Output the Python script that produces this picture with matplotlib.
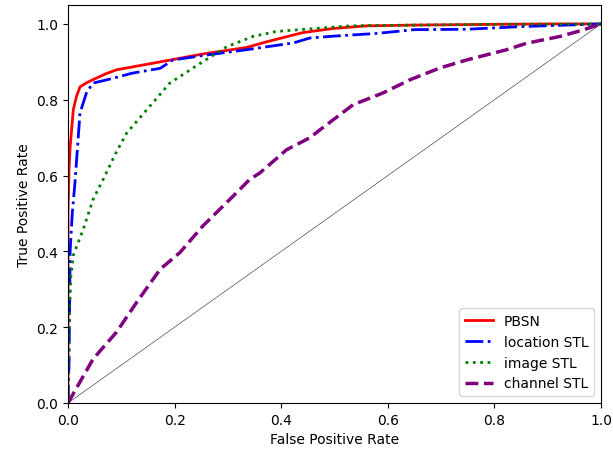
import matplotlib
matplotlib.use("Agg")
import matplotlib.pyplot as plt

# ROC curves
pbsn_fpr = [0.0, 0.0, 0.002, 0.004, 0.01, 0.016, 0.0225, 0.035, 0.05, 0.07, 0.091, 0.13, 0.185,
            0.25, 0.335, 0.373, 0.44, 0.497, 0.56, 0.65, 0.8, 0.9, 1.0]
pbsn_tpr = [0.0, 0.5, 0.62, 0.676, 0.774, 0.809, 0.834, 0.845, 0.855, 0.868, 0.879, 0.889, 0.903,
            0.92, 0.938, 0.953, 0.977, 0.988, 0.995, 0.997, 0.999, 1.0, 1.0]

loc_fpr = [0.0, 0.002, 0.004, 0.008, 0.013, 0.0225, 0.035, 0.047, 0.08, 0.12, 0.173, 0.197,
           0.26, 0.335, 0.423, 0.454, 0.5, 0.579, 0.65, 0.748, 0.85, 1.0]
loc_tpr = [0.0, 0.11, 0.40, 0.50, 0.58, 0.765, 0.82, 0.844, 0.855, 0.87, 0.883, 0.905,
           0.918, 0.932, 0.95, 0.963, 0.968, 0.975, 0.985, 0.986, 0.993, 1.0]

img_fpr = [0.0, 0.002, 0.005, 0.01, 0.029, 0.047, 0.066, 0.09, 0.11, 0.148, 0.191, 0.248,
           0.298, 0.347, 0.39, 0.454, 0.53, 0.65, 0.8, 1.0]
img_tpr = [0.0, 0.20, 0.33, 0.39, 0.46, 0.537, 0.59, 0.66, 0.712, 0.774, 0.844, 0.896,
           0.94, 0.967, 0.98, 0.987, 0.995, 0.997, 0.999, 1.0]

ch_fpr = [0.0, 0.004, 0.047, 0.091, 0.129, 0.173, 0.21, 0.253, 0.31, 0.341, 0.36, 0.41, 0.454,
          0.473, 0.535, 0.591, 0.642, 0.698, 0.748, 0.823, 0.86, 0.923, 0.966, 1.0]
ch_tpr = [0.0, 0.01, 0.116, 0.187, 0.266, 0.353, 0.397, 0.467, 0.546, 0.59, 0.607, 0.668, 0.70,
          0.721, 0.787, 0.818, 0.853, 0.884, 0.905, 0.932, 0.949, 0.967, 0.984, 1.0]

fig = plt.figure(figsize=(6.13, 4.52), dpi=100)
ax = fig.add_axes([68/613, 48/452, 533/613, 398/452])

ax.plot([0, 1], [0, 1], color='k', lw=0.5, alpha=0.7)
ax.plot(pbsn_fpr, pbsn_tpr, color='red', lw=2, linestyle='-', label='PBSN')
ax.plot(loc_fpr, loc_tpr, color='blue', lw=2, linestyle='-.', label='location STL')
ax.plot(img_fpr, img_tpr, color='green', lw=2, linestyle=':', label='image STL')
ax.plot(ch_fpr, ch_tpr, color='purple', lw=2.5, linestyle='--', label='channel STL')

ax.set_xlim(0, 1)
ax.set_ylim(0, 1.05)
ax.set_xlabel("False Positive Rate")
ax.set_ylabel("True Positive Rate")
ax.legend(loc='lower right')

fig.savefig("out.png", dpi=100)
